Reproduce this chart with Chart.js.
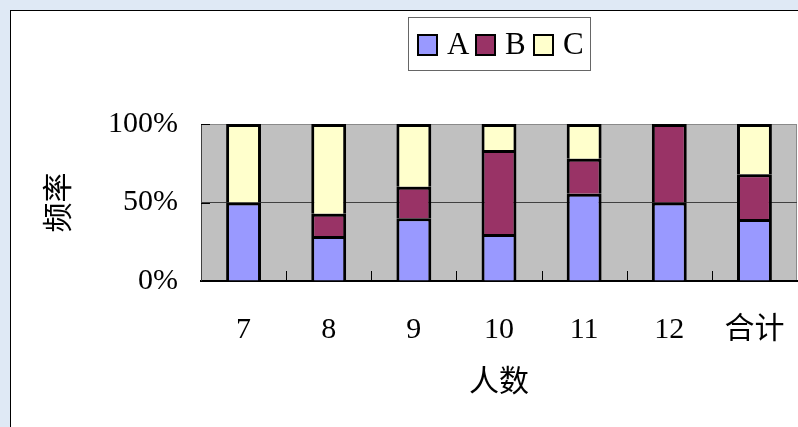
<!DOCTYPE html>
<html>
<head>
<meta charset="utf-8">
<script src="https://cdn.jsdelivr.net/npm/chart.js@4.4.1/dist/chart.umd.min.js"></script>
<style>
  html, body { margin: 0; padding: 0; background: #dfe9f5; overflow: hidden; }
  #frame {
    position: absolute; left: 10px; top: 10px;
    width: 788px; height: 417px;
    background: #fff;
    border-left: 1px solid #000; border-top: 1px solid #000;
    box-sizing: border-box;
  }
  canvas { display: block; }
</style>
</head>
<body>
<div id="frame"><canvas id="myChart" width="787" height="416"></canvas></div>
<script>
// Group sizes on the x axis
const categories = ['7', '8', '9', '10', '11', '12', '合计'];
// Share of each answer within a group, in percent
const seriesA = [50, 28.6, 40, 30, 55.6, 50, 39.5];
const seriesB = [0, 14.3, 20, 53.5, 22.2, 50, 28.5];
const seriesC = [50, 57.1, 40, 16.5, 22.2, 0, 32];
const seriesNames = ['A', 'B', 'C'];
const yTicks = [0, 50, 100];

const serif = "'Liberation Serif', 'Noto Sans CJK SC', serif";
const cjk = "'Noto Sans CJK SC', serif";

// Gray plot background plus the short inner tick marks
const plotArea = {
    id: 'plotArea',
    beforeDraw(chart) {
        const { ctx, chartArea: a } = chart;
        ctx.save();
        ctx.fillStyle = '#c0c0c0';
        ctx.fillRect(a.left, a.top, a.right - a.left, a.bottom - a.top);
        ctx.strokeStyle = '#8a8a8a';
        ctx.lineWidth = 1;
        ctx.beginPath();
        ctx.moveTo(a.right - 0.5, a.top);
        ctx.lineTo(a.right - 0.5, a.bottom);
        ctx.stroke();
        ctx.restore();
    },
    afterDatasetsDraw(chart) {
        const { ctx, chartArea: a, scales } = chart;
        ctx.save();
        ctx.strokeStyle = '#000';
        ctx.lineWidth = 1;
        ctx.beginPath();
        // category boundaries on the x axis
        for (let i = 0; i < categories.length - 1; i++) {
            const x = Math.round((scales.x.getPixelForValue(i) + scales.x.getPixelForValue(i + 1)) / 2) + 0.5;
            ctx.moveTo(x, a.bottom);
            ctx.lineTo(x, a.bottom - 10);
        }
        // value ticks on the y axis
        yTicks.forEach(v => {
            const y = Math.round(scales.y.getPixelForValue(v)) + 0.5;
            ctx.moveTo(a.left, y);
            ctx.lineTo(a.left + 9, y);
        });
        ctx.stroke();
        ctx.restore();
    }
};

// Boxed legend centred over the plot
const boxLegend = {
    id: 'boxLegend',
    afterDraw(chart) {
        const { ctx, chartArea: a } = chart;
        const w = 182, h = 53, top = 6;
        const left = Math.round((a.left + a.right) / 2 - w / 2);
        ctx.save();
        ctx.strokeStyle = '#666';
        ctx.lineWidth = 1;
        ctx.strokeRect(left + 0.5, top + 0.5, w, h);
        ctx.font = '31px ' + serif;
        ctx.textBaseline = 'middle';
        chart.data.datasets.forEach((ds, i) => {
            const sx = left + 10 + i * 58;
            ctx.fillStyle = ds.backgroundColor;
            ctx.fillRect(sx, top + 18, 19, 20);
            ctx.lineWidth = 2;
            ctx.strokeStyle = '#000';
            ctx.strokeRect(sx, top + 18, 19, 20);
            ctx.fillStyle = '#000';
            ctx.fillText(ds.label, sx + 29, top + 29);
        });
        ctx.restore();
    }
};

const ctx = document.getElementById('myChart').getContext('2d');

const myChart = new Chart(ctx, {
    type: 'bar',
    data: {
        labels: categories,
        datasets: [
            { label: seriesNames[0], data: seriesA, backgroundColor: '#9999ff' },
            { label: seriesNames[1], data: seriesB, backgroundColor: '#993366' },
            { label: seriesNames[2], data: seriesC, backgroundColor: '#ffffcc' }
        ]
    },
    options: {
        responsive: false,
        animation: false,
        layout: { padding: { top: 113, left: 28, right: 1, bottom: 29 } },
        datasets: {
            bar: {
                borderColor: '#000',
                borderWidth: { top: 3, left: 3, right: 3, bottom: 0 },
                borderSkipped: false,
                categoryPercentage: 1,
                barPercentage: 0.41
            }
        },
        plugins: {
            legend: { display: false },
            tooltip: { enabled: false }
        },
        scales: {
            x: {
                stacked: true,
                grid: { display: false, drawTicks: false },
                border: { display: true, color: '#000', width: 2 },
                ticks: {
                    color: '#000',
                    padding: 31,
                    font: { family: serif, size: 30 }
                },
                title: {
                    display: true,
                    text: '人数',
                    color: '#000',
                    padding: 0,
                    font: { family: cjk, size: 30 }
                },
                afterFit(scale) {
                    scale.height = 117;
                    scale.paddingLeft = 0;
                    scale.paddingRight = 0;
                }
            },
            y: {
                stacked: true,
                min: 0,
                max: 100,
                afterBuildTicks(scale) { scale.ticks = yTicks.map(v => ({ value: v })); },
                grid: {
                    drawTicks: false,
                    color: c => c.tick.value === 100 ? '#8a8a8a' : (c.tick.value === 50 ? '#404040' : 'rgba(0,0,0,0)'),
                    lineWidth: 1
                },
                border: { display: true, color: '#404040', width: 1 },
                ticks: {
                    color: '#000',
                    padding: 23,
                    font: { family: serif, size: 30 },
                    callback: v => v + '%'
                },
                title: {
                    display: true,
                    text: '频率',
                    color: '#000',
                    padding: 0,
                    font: { family: cjk, size: 30 }
                },
                afterFit(scale) {
                    scale.width = 162;
                    scale.paddingTop = 0;
                    scale.paddingBottom = 0;
                }
            }
        }
    },
    plugins: [plotArea, boxLegend]
});
</script>
</body>
</html>
